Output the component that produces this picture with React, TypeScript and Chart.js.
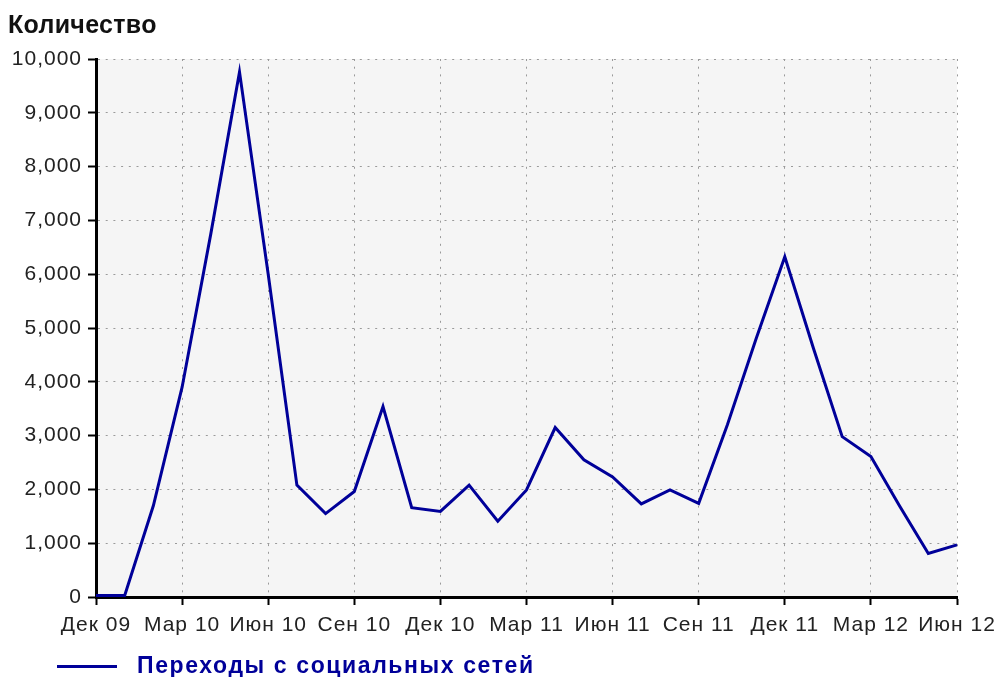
import React, { useEffect, useRef } from 'react';
import { Chart, registerables } from 'chart.js';

Chart.register(...registerables);

const axisTitle = 'Количество';
const seriesLabel = 'Переходы с социальных сетей';
const months = [
  'Дек 09',
  'Янв 10', 'Фев 10', 'Мар 10', 'Апр 10', 'Май 10', 'Июн 10',
  'Июл 10', 'Авг 10', 'Сен 10', 'Окт 10', 'Ноя 10', 'Дек 10',
  'Янв 11', 'Фев 11', 'Мар 11', 'Апр 11', 'Май 11', 'Июн 11',
  'Июл 11', 'Авг 11', 'Сен 11', 'Окт 11', 'Ноя 11', 'Дек 11',
  'Янв 12', 'Фев 12', 'Мар 12', 'Апр 12', 'Май 12', 'Июн 12',
];
const socialVisits = [
  30,
  30, 1700, 3900, 6750, 9760, 6000,
  2080, 1550, 1960, 3540, 1660, 1590,
  2080, 1410, 1990, 3150, 2550, 2230,
  1730, 1990, 1740, 3200, 4800, 6325,
  4620, 2980, 2610, 1690, 810, 970,
];
const yMin = 0;
const yMax = 10000;
const yStep = 1000;
const labelEvery = 3;

const LINE_COLOR = '#000099';
const GRID_COLOR = '#9a9a9a';
const FONT = '"Liberation Sans", Arial, sans-serif';

export default function App() {
  const ref = useRef<HTMLCanvasElement | null>(null);

  useEffect(() => {
    document.body.style.margin = '0';
    const canvas = ref.current;
    if (!canvas) return;

    const spacingPlugin = {
      id: 'spacing',
      beforeLayout(chart: any) {
        (chart.ctx as any).letterSpacing = '1px';
      },
      beforeDraw(chart: any) {
        const { ctx, chartArea } = chart;
        (ctx as any).letterSpacing = '1px';
        ctx.save();
        ctx.fillStyle = '#ffffff';
        ctx.fillRect(0, 0, chart.width, chart.height);
        ctx.fillStyle = '#f5f5f5';
        ctx.fillRect(chartArea.left, chartArea.top, chartArea.right - chartArea.left, chartArea.bottom - chartArea.top);
        ctx.restore();
      },
      afterDraw(chart: any) {
        const ctx = chart.ctx;
        ctx.save();
        (ctx as any).letterSpacing = '0.3px';
        ctx.fillStyle = '#111111';
        ctx.font = `bold 25px ${FONT}`;
        ctx.textBaseline = 'alphabetic';
        ctx.textAlign = 'left';
        ctx.fillText(axisTitle, 8, 33);

        const ds = chart.data.datasets[0];
        ctx.strokeStyle = ds.borderColor;
        ctx.lineWidth = 3;
        ctx.beginPath();
        ctx.moveTo(57, 666.5);
        ctx.lineTo(117, 666.5);
        ctx.stroke();
        (ctx as any).letterSpacing = '1.6px';
        ctx.fillStyle = ds.borderColor;
        ctx.font = `bold 23px ${FONT}`;
        ctx.fillText(ds.label, 137, 673);
        ctx.restore();
      },
    };

    const chart = new Chart(canvas, {
      type: 'line',
      data: {
        labels: months,
        datasets: [
          {
            label: seriesLabel,
            data: socialVisits,
            borderColor: LINE_COLOR,
            backgroundColor: LINE_COLOR,
            borderWidth: 3,
            pointRadius: 0,
            tension: 0,
            fill: false,
          },
        ],
      },
      options: {
        animation: false,
        responsive: false,
        maintainAspectRatio: false,
        layout: { padding: { top: 59, right: 38, bottom: 35, left: 0 } },
        plugins: {
          legend: { display: false },
          title: { display: false },
          tooltip: { enabled: false },
        },
        scales: {
          x: {
            type: 'category',
            offset: false,
            afterFit(scale: any) {
              scale.height = 45;
              scale.paddingRight = 0;
              scale.paddingLeft = 0;
            },
            border: { display: true, color: '#000000', width: 3, dash: [2, 5.7] },
            grid: {
              display: true,
              drawOnChartArea: true,
              drawTicks: true,
              tickLength: 8,
              tickWidth: 2,
              lineWidth: 1,
              color: (c: any) => (c.index % labelEvery === 0 ? GRID_COLOR : 'rgba(0,0,0,0)'),
              tickColor: (c: any) => (c.index % labelEvery === 0 ? '#000000' : 'rgba(0,0,0,0)'),
            },
            ticks: {
              autoSkip: false,
              maxRotation: 0,
              minRotation: 0,
              padding: 8,
              color: '#222222',
              font: { family: FONT, size: 21 },
              callback: function (this: any, value: any, index: number) {
                return index % labelEvery === 0 ? this.getLabelForValue(value) : '';
              },
            },
          },
          y: {
            min: yMin,
            max: yMax,
            afterFit(scale: any) {
              scale.width = 96;
              scale.paddingTop = 0;
              scale.paddingBottom = 0;
            },
            border: { display: true, color: '#000000', width: 3, dash: [2, 5.7] },
            grid: {
              display: true,
              drawTicks: true,
              tickLength: 8,
              tickWidth: 2,
              lineWidth: 1,
              color: GRID_COLOR,
              tickColor: '#000000',
            },
            ticks: {
              stepSize: yStep,
              padding: 6,
              color: '#222222',
              font: { family: FONT, size: 21 },
              callback: (v: any) => Number(v).toLocaleString('en-US'),
            },
          },
        },
      },
      plugins: [spacingPlugin],
    } as any);

    return () => {
      chart.destroy();
    };
  }, []);

  return (
    <div style={{ width: 995, height: 677 }}>
      <canvas ref={ref} width={995} height={677} style={{ display: 'block', width: 995, height: 677 }} />
    </div>
  );
}
